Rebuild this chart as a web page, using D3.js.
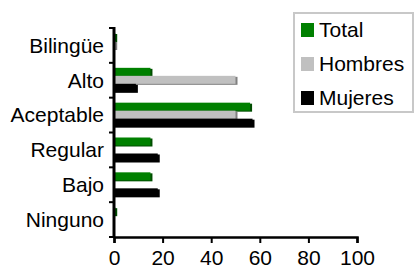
<!DOCTYPE html>
<html>
<head>
<meta charset="utf-8">
<script src="https://cdn.jsdelivr.net/npm/d3@7"></script>
<style>
  body { margin: 0; background: #fff; }
  text { font-family: "Liberation Sans", Arial, sans-serif; }
</style>
</head>
<body>
<svg id="chart" width="415" height="268"></svg>
<script>
const categories = ["Bilingüe", "Alto", "Aceptable", "Regular", "Bajo", "Ninguno"];
const seriesNames = ["Total", "Hombres", "Mujeres"];
const total   = [0.5, 15, 56, 15, 15, 0.5];
const hombres = [0.5, 50, 50, 0, 0, 0];
const mujeres = [0, 9, 57, 18, 18, 0];
const xTicks = [0, 20, 40, 60, 80, 100];

const colors = { Total: "#008000", Hombres: "#c0c0c0", Mujeres: "#000000" };
const shades = { Total: "#004d00", Hombres: "#808080", Mujeres: "#000000" };

const values = { Total: total, Hombres: hombres, Mujeres: mujeres };

const svg = d3.select("#chart");
const plotLeft = 114, plotRight = 357, plotTop = 28, plotBottom = 237;

const x = d3.scaleLinear().domain([0, 100]).range([plotLeft, plotRight]);
const y0 = d3.scaleBand().domain(categories).range([plotTop, plotBottom]);
const y1 = d3.scaleBand().domain(seriesNames).range([5, 29]);

// bars (with a small 3d-ish shadow)
seriesNames.forEach(s => {
  const g = svg.append("g");
  const data = categories.map((c, i) => ({ c, v: values[s][i] })).filter(d => d.v > 0);
  g.selectAll(".shadow").data(data).enter().append("rect")
    .attr("x", x(0))
    .attr("y", d => y0(d.c) + y1(s) + 1)
    .attr("width", d => x(d.v) - x(0) + 2)
    .attr("height", y1.bandwidth())
    .attr("fill", shades[s]);
  g.selectAll(".bar").data(data).enter().append("rect")
    .attr("x", x(0))
    .attr("y", d => y0(d.c) + y1(s))
    .attr("width", d => x(d.v) - x(0))
    .attr("height", y1.bandwidth())
    .attr("fill", colors[s]);
});

// x axis
const xAxis = svg.append("g")
  .attr("transform", "translate(0," + plotBottom + ")")
  .call(d3.axisBottom(x).tickValues(xTicks).tickSize(6).tickPadding(7));
xAxis.select(".domain").attr("stroke", "#000").attr("stroke-width", 2.5);
xAxis.selectAll(".tick line").attr("stroke-width", 2);
xAxis.selectAll("text").attr("font-size", 21).attr("fill", "#000")
  .attr("font-family", "Liberation Sans, Arial, sans-serif");

// y axis: ticks at band boundaries
svg.append("line").attr("x1", plotLeft).attr("x2", plotLeft)
  .attr("y1", plotTop - 1).attr("y2", plotBottom + 1)
  .attr("stroke", "#000").attr("stroke-width", 3);
const bounds = categories.map(c => y0(c)).concat([plotBottom]);
svg.selectAll(".ytick").data(bounds).enter().append("line")
  .attr("x1", plotLeft - 5).attr("x2", plotLeft)
  .attr("y1", d => d).attr("y2", d => d)
  .attr("stroke", "#000").attr("stroke-width", 2);
svg.selectAll(".ylab").data(categories).enter().append("text")
  .attr("x", plotLeft - 10)
  .attr("y", d => y0(d) + y0.bandwidth() / 2)
  .attr("dy", "0.35em")
  .attr("text-anchor", "end")
  .attr("font-size", 21)
  .text(d => d);

// legend
const lg = svg.append("g");
lg.append("rect").attr("x", 294).attr("y", 13).attr("width", 119).attr("height", 99)
  .attr("fill", "#fff").attr("stroke", "#c8c8c8").attr("stroke-width", 2);
seriesNames.forEach((s, i) => {
  const cy = 30 + i * 34;
  lg.append("rect").attr("x", 301).attr("y", cy - 7).attr("width", 13).attr("height", 14)
    .attr("fill", colors[s]);
  lg.append("text").attr("x", 319).attr("y", cy).attr("dy", "0.35em")
    .attr("font-size", 21).text(s);
});
</script>
</body>
</html>
